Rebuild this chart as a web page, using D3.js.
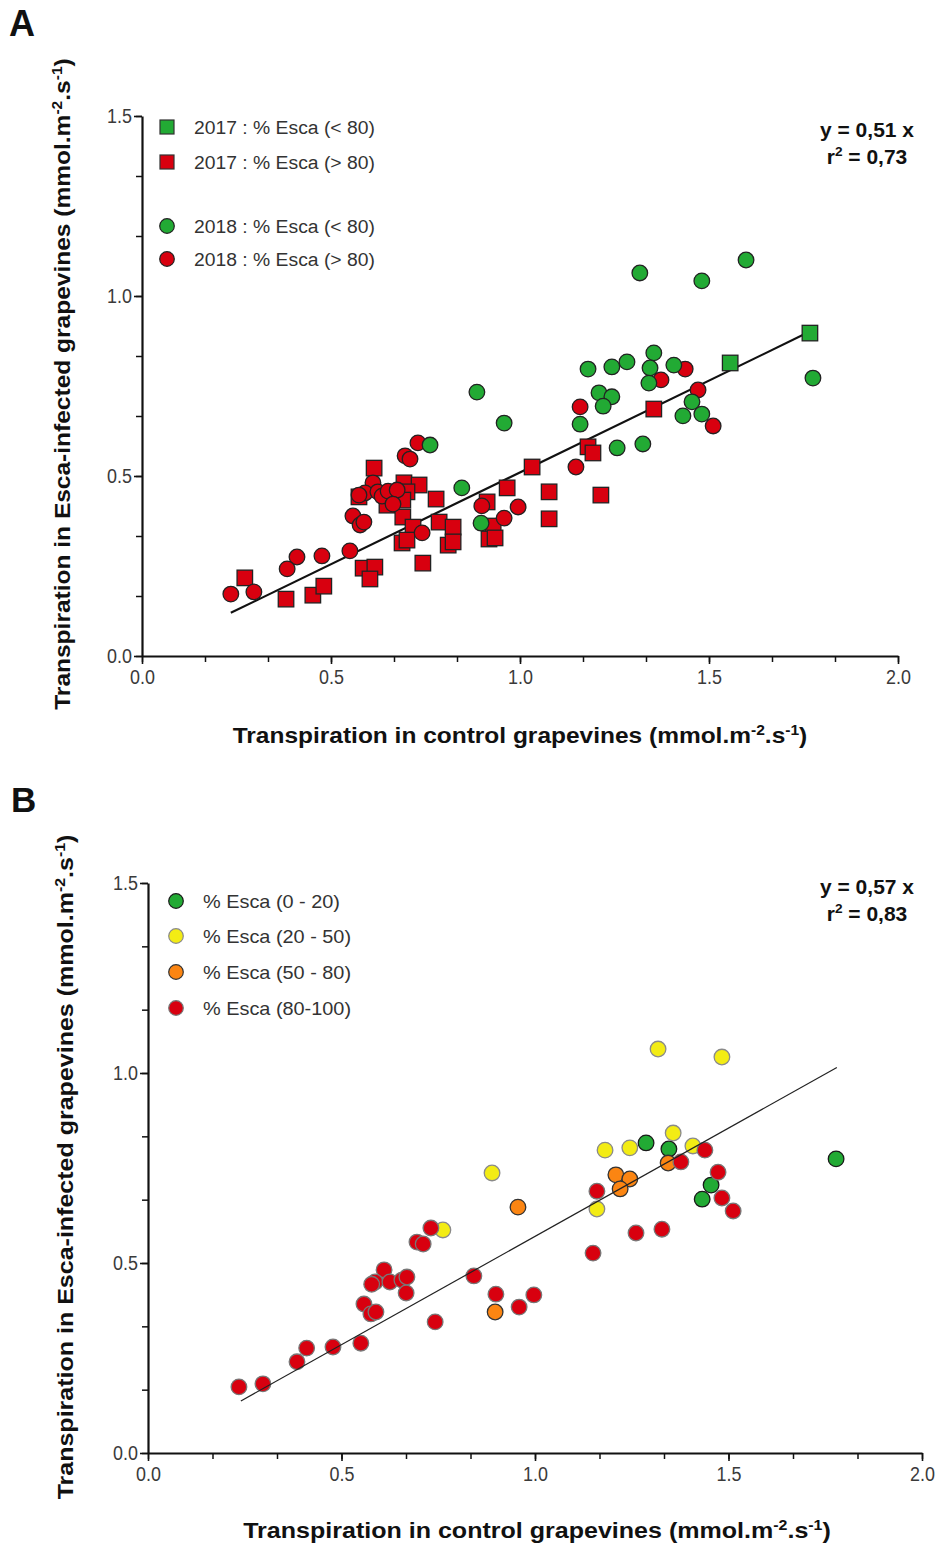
<!DOCTYPE html>
<html><head><meta charset="utf-8">
<script src="https://cdn.jsdelivr.net/npm/d3@7"></script>
<style>body{margin:0;background:#fff}svg{display:block}</style>
</head><body>
<svg id="c" width="940" height="1546"></svg>
<script>
// ---------- data ----------
const xTickValues = [0, 0.5, 1.0, 1.5, 2.0];
const yTickValues = [0, 0.5, 1.0, 1.5];
const xTickLabels = ["0.0", "0.5", "1.0", "1.5", "2.0"];
const yTickLabels = ["0.0", "0.5", "1.0", "1.5"];

// Panel A
const a2017Low = [[1.767,0.897],[1.556,0.814]];
const a2017High = [[1.354,0.686],[1.180,0.581],[1.193,0.564],[1.032,0.525],[0.966,0.467],[1.077,0.456],
  [1.214,0.447],[0.913,0.428],[1.077,0.381],[0.929,0.361],[0.918,0.325],[0.934,0.328],[0.614,0.522],
  [0.693,0.481],[0.733,0.475],[0.574,0.442],[0.701,0.456],[0.648,0.419],[0.690,0.433],[0.778,0.436],
  [0.690,0.386],[0.786,0.372],[0.823,0.358],[0.717,0.358],[0.688,0.314],[0.701,0.322],[0.810,0.308],
  [0.823,0.317],[0.743,0.258],[0.585,0.244],[0.616,0.247],[0.603,0.214],[0.272,0.217],[0.381,0.158],
  [0.452,0.169],[0.481,0.194]];
const a2018Low = [[0.886,0.733],[0.958,0.647],[0.762,0.586],[1.317,1.064],[1.481,1.042],[1.598,1.100],
  [1.775,0.772],[1.354,0.842],[1.283,0.817],[1.243,0.803],[1.180,0.797],[1.344,0.800],[1.407,0.808],
  [1.341,0.758],[1.209,0.731],[1.243,0.720],[1.220,0.694],[1.159,0.644],[1.455,0.706],[1.431,0.667],
  [1.481,0.672],[1.257,0.578],[1.325,0.589],[0.846,0.467],[0.897,0.369]];
const a2018High = [[0.730,0.592],[0.696,0.556],[0.709,0.547],[0.611,0.481],[0.590,0.453],[0.574,0.447],
  [0.624,0.456],[0.635,0.444],[0.651,0.458],[0.675,0.461],[0.664,0.422],[0.558,0.389],[0.577,0.364],
  [0.587,0.372],[0.741,0.342],[0.550,0.292],[0.476,0.278],[0.410,0.275],[0.384,0.242],[0.235,0.172],
  [0.296,0.178],[1.148,0.525],[0.899,0.417],[0.995,0.414],[0.958,0.383],[1.159,0.692],[1.437,0.797],
  [1.373,0.767],[1.471,0.739],[1.511,0.639]];
const aSlope = 0.51, aFitRange = [0.235, 1.76];
const aEquation = ["y = 0,51 x", "0,73"];

// Panel B
const bEsca0_20 = [[1.287,0.816],[1.346,0.800],[1.778,0.774],[1.455,0.705],[1.432,0.668]];
const bEsca20_50 = [[1.318,1.063],[1.483,1.042],[1.357,0.842],[1.181,0.797],[1.245,0.803],[1.408,0.808],
  [1.160,0.642],[0.889,0.737],[0.762,0.587]];
const bEsca50_80 = [[1.344,0.763],[1.209,0.732],[1.245,0.721],[1.220,0.695],[0.956,0.647],[0.897,0.371]];
const bEsca80_100 = [[0.731,0.592],[0.695,0.555],[0.711,0.550],[0.610,0.482],[0.587,0.450],[0.578,0.444],
  [0.625,0.450],[0.656,0.455],[0.669,0.463],[0.667,0.421],[0.558,0.392],[0.576,0.366],[0.589,0.371],
  [0.550,0.289],[0.478,0.279],[0.410,0.276],[0.385,0.240],[0.235,0.174],[0.297,0.182],[0.842,0.466],
  [0.899,0.418],[0.959,0.384],[0.997,0.416],[0.742,0.345],[1.150,0.526],[1.160,0.689],[1.439,0.797],
  [1.377,0.766],[1.473,0.739],[1.483,0.671],[1.512,0.637],[1.261,0.579],[1.328,0.589]];
const bSlope = 0.57, bFitRange = [0.24, 1.78];
const bEquation = ["y = 0,57 x", "0,83"];

const legendA = ["2017 : % Esca (< 80)", "2017 : % Esca (> 80)", "2018 : % Esca (< 80)", "2018 : % Esca (> 80)"];
const legendB = ["% Esca (0 - 20)", "% Esca (20 - 50)", "% Esca (50 - 80)", "% Esca (80-100)"];

const GREEN = "#22aa34", RED = "#d8000f", YELLOW = "#f3ec14", ORANGE = "#fb8512";

// ---------- drawing ----------
const svg = d3.select("#c");
const FONT = "'Liberation Sans', Arial, Helvetica, sans-serif";

function fitWidth(sel, target) {
  const w = sel.node().getBBox().width;
  return target / w;
}

function axes(g, x, y) {
  const minorX = d3.range(0, 2.0001, 0.5/3);
  const minorY = d3.range(0, 1.5001, 0.5/3);
  const y0 = y(0), x0 = x(0);
  g.append("g").attr("transform", `translate(0,${y0})`)
    .call(d3.axisBottom(x).tickValues(minorX).tickSize(6).tickFormat(""))
    .call(s => s.select(".domain").remove())
    .call(s => s.selectAll("line").attr("stroke", "#111").attr("stroke-width", 1.5));
  g.append("g").attr("transform", `translate(${x0},0)`)
    .call(d3.axisLeft(y).tickValues(minorY).tickSize(6).tickFormat(""))
    .call(s => s.select(".domain").remove())
    .call(s => s.selectAll("line").attr("stroke", "#111").attr("stroke-width", 1.5));
  g.append("g").attr("transform", `translate(0,${y0})`)
    .call(d3.axisBottom(x).tickValues(xTickValues).tickSize(8).tickSizeOuter(0)
      .tickFormat((d, i) => xTickLabels[i]))
    .call(s => s.select(".domain").attr("stroke", "#111").attr("stroke-width", 2.2))
    .call(s => s.selectAll("line").attr("stroke", "#111").attr("stroke-width", 1.6))
    .call(s => s.selectAll("text").attr("font-family", FONT).attr("font-size", 19.5)
      .attr("fill", "#3a3a3a").attr("dy", "0.95em").attr("y", 0)
      .attr("transform", "translate(0,9) scale(0.92,1)"));
  g.append("g").attr("transform", `translate(${x0},0)`)
    .call(d3.axisLeft(y).tickValues(yTickValues).tickSize(8).tickSizeOuter(0)
      .tickFormat((d, i) => yTickLabels[i]))
    .call(s => s.selectAll("text").attr("x", 0).attr("transform", "translate(-10,0) scale(0.92,1)"))
    .call(s => s.select(".domain").attr("stroke", "#111").attr("stroke-width", 2.2))
    .call(s => s.selectAll("line").attr("stroke", "#111").attr("stroke-width", 1.6))
    .call(s => s.selectAll("text").attr("font-family", FONT).attr("font-size", 19.5)
      .attr("fill", "#3a3a3a"));
}

function unitTitle(parent, prefix) {
  const t = parent.append("text").attr("font-family", FONT).attr("font-weight", "bold")
    .attr("font-size", 22).attr("fill", "#111");
  t.append("tspan").text(prefix + " (mmol.m");
  t.append("tspan").attr("font-size", 14).attr("dy", -8).text("-2");
  t.append("tspan").attr("dy", 8).text(".s");
  t.append("tspan").attr("font-size", 14).attr("dy", -8).text("-1");
  t.append("tspan").attr("dy", 8).text(")");
  return t;
}

function titles(cx, xTitleY, xTitleW, yTitleX, yTitleCY, yTitleW) {
  const xt = unitTitle(svg, "Transpiration in control grapevines").attr("text-anchor", "middle");
  const kx = fitWidth(xt, xTitleW);
  xt.attr("transform", `translate(${cx},${xTitleY}) scale(${kx},1)`);
  const yt = unitTitle(svg, "Transpiration in Esca-infected grapevines").attr("text-anchor", "middle");
  const ky = fitWidth(yt, yTitleW);
  yt.attr("transform", `translate(${yTitleX},${yTitleCY}) rotate(-90) scale(${ky},1)`);
}

function equation(cx, y1, eq, w1) {
  const g = svg.append("g").attr("font-family", FONT).attr("font-weight", "bold")
    .attr("font-size", 20).attr("fill", "#111").attr("text-anchor", "middle");
  const t1 = g.append("text").text(eq[0]);
  const k = fitWidth(t1, w1);
  t1.attr("transform", `translate(${cx},${y1}) scale(${k},1)`);
  const t = g.append("text").attr("transform", `translate(${cx},${y1 + 27}) scale(${k},1)`);
  t.append("tspan").text("r");
  t.append("tspan").attr("font-size", 13).attr("dy", -8).text("2");
  t.append("tspan").attr("dy", 8).text(" = " + eq[1]);
}

function legendText(lg, labels, xs, ys, w0) {
  let k = 1;
  labels.forEach((lab, i) => {
    const t = lg.append("text").text(lab);
    if (i === 0) k = fitWidth(t, w0);
    t.attr("transform", `translate(${xs},${ys[i] + 6.5}) scale(${k},1)`);
  });
}

function circles(g, x, y, data, fill, stroke, r) {
  g.selectAll(null).data(data).join("circle")
    .attr("cx", d => x(d[0])).attr("cy", d => y(d[1])).attr("r", r)
    .attr("fill", fill).attr("stroke", stroke).attr("stroke-width", 1.3);
}
function squares(g, x, y, data, fill, s) {
  g.selectAll(null).data(data).join("rect")
    .attr("x", d => x(d[0]) - s/2).attr("y", d => y(d[1]) - s/2)
    .attr("width", s).attr("height", s)
    .attr("fill", fill).attr("stroke", "#222").attr("stroke-width", 1.3);
}

// ===== Panel A =====
{
  svg.append("text").attr("x", 9).attr("y", 36).attr("font-family", FONT).attr("font-weight", "bold")
    .attr("font-size", 36).attr("fill", "#111").text("A");
  const x = d3.scaleLinear().domain([0, 2]).range([142, 898]);
  const y = d3.scaleLinear().domain([0, 1.5]).range([656, 116]);
  const g = svg.append("g");
  axes(g, x, y);
  g.append("line").attr("x1", x(aFitRange[0])).attr("y1", y(aSlope*aFitRange[0]))
    .attr("x2", x(aFitRange[1])).attr("y2", y(aSlope*aFitRange[1]))
    .attr("stroke", "#111").attr("stroke-width", 2.2);
  squares(g, x, y, a2017High, RED, 15.5);
  squares(g, x, y, a2017Low, GREEN, 15.5);
  circles(g, x, y, a2018High, RED, "#222", 7.8);
  circles(g, x, y, a2018Low, GREEN, "#222", 7.8);
  const lg = svg.append("g").attr("font-family", FONT).attr("font-size", 19).attr("fill", "#333");
  const ys = [127, 162, 226, 259];
  const shapes = ["sq", "sq", "ci", "ci"], cols = [GREEN, RED, GREEN, RED];
  shapes.forEach((s, i) => {
    if (s === "sq") lg.append("rect").attr("x", 160).attr("y", ys[i] - 7).attr("width", 14).attr("height", 14)
      .attr("fill", cols[i]).attr("stroke", "#333").attr("stroke-width", 1.2);
    else lg.append("circle").attr("cx", 167).attr("cy", ys[i]).attr("r", 7.3)
      .attr("fill", cols[i]).attr("stroke", "#222").attr("stroke-width", 1.2);
  });
  legendText(lg, legendA, 194, ys, 181);
  equation(867, 137, aEquation, 94);
  titles(520, 743, 575, 70, 384, 652);
}

// ===== Panel B =====
{
  svg.append("text").attr("x", 11).attr("y", 812).attr("font-family", FONT).attr("font-weight", "bold")
    .attr("font-size", 35).attr("fill", "#111").text("B");
  const x = d3.scaleLinear().domain([0, 2]).range([148, 922]);
  const y = d3.scaleLinear().domain([0, 1.5]).range([1453, 883]);
  const g = svg.append("g");
  axes(g, x, y);
  circles(g, x, y, bEsca0_20, GREEN, "#1a1a1a", 7.8);
  circles(g, x, y, bEsca20_50, YELLOW, "#8a8a8a", 7.8);
  circles(g, x, y, bEsca50_80, ORANGE, "#333", 7.8);
  circles(g, x, y, bEsca80_100, RED, "#777", 7.8);
  g.append("line").attr("x1", x(bFitRange[0])).attr("y1", y(bSlope*bFitRange[0]))
    .attr("x2", x(bFitRange[1])).attr("y2", y(bSlope*bFitRange[1]))
    .attr("stroke", "#222").attr("stroke-width", 1.2);
  const lg = svg.append("g").attr("font-family", FONT).attr("font-size", 19).attr("fill", "#333");
  const ys = [901, 936, 972, 1008];
  const cols = [GREEN, YELLOW, ORANGE, RED], sts = ["#1a1a1a", "#8a8a8a", "#333", "#777"];
  ys.forEach((yy, i) => {
    lg.append("circle").attr("cx", 176).attr("cy", yy).attr("r", 7.3)
      .attr("fill", cols[i]).attr("stroke", sts[i]).attr("stroke-width", 1.2);
  });
  legendText(lg, legendB, 203, ys, 137);
  equation(867, 894, bEquation, 94);
  titles(537, 1538, 588, 73, 1167, 665);
}
</script>
</body></html>
